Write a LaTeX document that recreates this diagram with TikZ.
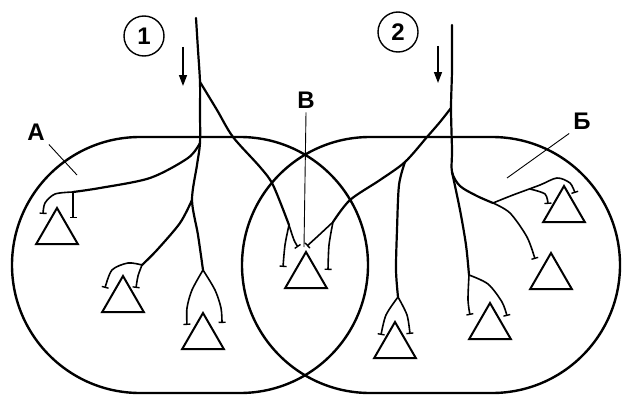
\documentclass[tikz,border=0pt]{standalone}
\usepackage{fontspec}
\setmainfont{Liberation Sans}
\usetikzlibrary{shapes.geometric,arrows.meta}

\begin{document}
\begin{tikzpicture}[x=1pt,y=-1pt,
    zone/.style={line width=2.4pt, rounded corners=128pt},
    fibre/.style={line width=2.2pt, line cap=round},
    twig/.style={line width=1.6pt, -{Bar[width=7pt,line width=1.4pt]}},
    cell/.style={regular polygon, regular polygon sides=3, draw, line width=2pt, minimum size=48pt, inner sep=0pt},
    tag/.style={font=\fontsize{24}{28}\selectfont\bfseries, inner sep=4pt},
    pointer/.style={line width=1.5pt, -{Triangle[width=8pt,length=11pt]}},
    leader/.style={line width=0.9pt}]
  \useasboundingbox (0,0) rectangle (623,396);

  % the two motor unit areas
  \draw[zone] (12,137) rectangle (368,393);
  \draw[zone] (242,137) rectangle (620,393);

  % muscle cells
  \node[cell] (t1) at (57,232) {};
  \node[cell] (t2) at (123,300) {};
  \node[cell] (t3) at (203,337) {};
  \node[cell] (tv) at (306,276) {};
  \node[cell] (t5) at (395,346) {};
  \node[cell] (t6) at (490,327) {};
  \node[cell] (t7) at (564,210) {};
  \node[cell] (t8) at (551,277) {};

  % fibre 1
  \coordinate (f1) at (196,18);
  \coordinate (f1a) at (200,82);
  \coordinate (f1b) at (200,143);
  \coordinate (f1c) at (192,200);
  \coordinate (f1d) at (203,270);
  \coordinate (k1) at (73,192);
  \coordinate (k2) at (142,265);
  \coordinate (kv1) at (289,225);
  \draw[fibre] plot[smooth] coordinates {(f1) (198,50) (f1a) (200,112) (f1b) (197,165) (f1c) (198,235) (f1d)};
  \draw[fibre] plot[smooth] coordinates {(f1b) (188,158) (150,178) (100,188) (k1)};
  \draw[twig] plot[smooth] coordinates {(k1) (55,194) (45,203) (43,214)};
  \draw[twig] (k1) -- (73,218);
  \draw[fibre] plot[smooth] coordinates {(f1c) (180,223) (157,250) (k2)};
  \draw[twig] plot[smooth] coordinates {(k2) (128,263) (112,270) (105,288)};
  \draw[twig] plot[smooth] coordinates {(k2) (138,276) (136,288)};
  \draw[twig] plot[smooth] coordinates {(f1d) (192,290) (187,308) (187,325)};
  \draw[twig] plot[smooth] coordinates {(f1d) (215,290) (221,308) (222,323)};
  \draw[fibre] plot[smooth] coordinates {(f1a) (217,110) (233,137) (260,167) (273,185) (kv1)};
  \draw[twig] plot[smooth] coordinates {(kv1) (294,240) (298,247)};
  \draw[twig] plot[smooth] coordinates {(kv1) (285,245) (283,267)};

  % fibre 2
  \coordinate (f2) at (452,25);
  \coordinate (f2a) at (451,108);
  \coordinate (f2b) at (452,172);
  \coordinate (f2c) at (493,203);
  \coordinate (f2d) at (405,162);
  \coordinate (k5) at (398,297);
  \coordinate (k6) at (469,275);
  \coordinate (kv2) at (333,222);
  \draw[fibre] plot[smooth] coordinates {(f2) (452,70) (f2a) (452,150) (f2b) (460,186) (477,196) (f2c)};
  \draw[fibre] plot[smooth] coordinates {(f2b) (460,210) (466,245) (k6)};
  \draw[twig] plot[smooth] coordinates {(k6) (468,300) (470,315)};
  \draw[twig] plot[smooth] coordinates {(k6) (488,284) (502,302) (507,316)};
  \draw[fibre] plot[smooth] coordinates {(f2a) (440,122) (427,137) (f2d) (380,180) (350,200) (kv2)};
  \draw[twig] plot[smooth] coordinates {(kv2) (318,236) (307,246)};
  \draw[twig] plot[smooth] coordinates {(kv2) (329,245) (328,270)};
  \draw[fibre] plot[smooth] coordinates {(f2d) (399,185) (397,230) (396,270) (k5)};
  \draw[twig] plot[smooth] coordinates {(k5) (386,315) (381,335)};
  \draw[twig] plot[smooth] coordinates {(k5) (407,315) (410,334)};
  \draw[twig] plot[smooth] coordinates {(f2c) (513,195) (540,185) (557,178) (570,183) (575,193)};
  \draw[twig] plot[smooth] coordinates {(530,189) (545,194) (548,204)};
  \draw[twig] plot[smooth] coordinates {(f2c) (510,213) (527,237) (535,259)};

  % numbers and arrows
  \node[tag, circle, draw, line width=1.4pt, minimum size=40pt, inner sep=0pt] (n1) at (144,36) {1};
  \node[tag, circle, draw, line width=1.4pt, minimum size=40pt, inner sep=0pt] (n2) at (398,32) {2};
  \coordinate (a1) at (183,47);
  \coordinate (a1e) at (183,86);
  \coordinate (a2) at (438,46);
  \coordinate (a2e) at (438,83);
  \draw[pointer] (a1) -- (a1e);
  \draw[pointer] (a2) -- (a2e);

  % letters
  \node[tag] (la) at (36,132) {А};
  \node[tag] (lv) at (306,100) {В};
  \node[tag] (lb) at (582,121) {Б};
  \coordinate (pa) at (77,175);
  \coordinate (pv) at (304,247);
  \coordinate (pb) at (507,178);
  \draw[leader] (la.south east) -- (pa);
  \draw[leader] (lv.south) -- (pv);
  \draw[leader] (lb.south west) -- (pb);
\end{tikzpicture}
\end{document}
